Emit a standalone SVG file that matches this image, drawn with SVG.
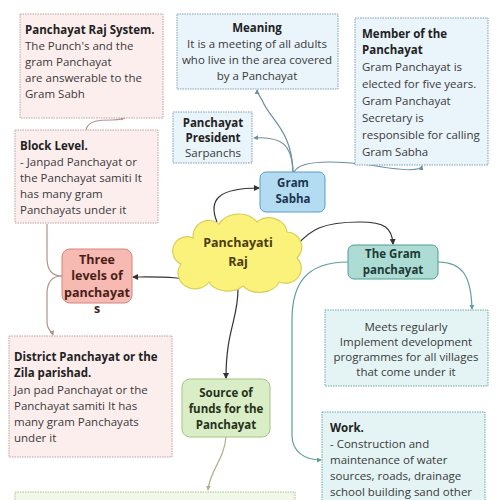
<svg xmlns="http://www.w3.org/2000/svg" width="500" height="500" viewBox="0 0 500 500">
<defs>
<style>
text{font-family:"Open Sans","Noto Sans","Liberation Sans",sans-serif;font-size:11.5px;fill:#3a3a3a}
.b{font-weight:bold;fill:#222}
.c{text-anchor:middle}
.pink{fill:#fdeeee;stroke:#c0a0a0;stroke-width:1;stroke-dasharray:1.5 1}
.blue{fill:#eaf4fb;stroke:#7f9fb5;stroke-width:1;stroke-dasharray:1.5 1}
.teal{fill:#e4f4f4;stroke:#6aa6a6;stroke-width:1;stroke-dasharray:1.5 1}
.green{fill:#f1f8e9;stroke:#a6c28a;stroke-width:1;stroke-dasharray:1.5 1}
.con{fill:none;stroke-width:1.2}
.k{stroke:#333}
.br{stroke:#b0948a}
.bl{stroke:#6d8ea3}
.tl{stroke:#5f9e9c}
.gn{stroke:#b5ae8a}
</style>
<marker id="ak" viewBox="0 0 6 6" refX="5" refY="3" markerWidth="6" markerHeight="6" orient="auto" markerUnits="userSpaceOnUse"><path d="M0,0 L6,3 L0,6 Z" fill="#333"/></marker>
<marker id="abr" viewBox="0 0 6 6" refX="5" refY="3" markerWidth="5" markerHeight="5" orient="auto" markerUnits="userSpaceOnUse"><path d="M0,0 L6,3 L0,6 Z" fill="#b0948a"/></marker>
<marker id="abl" viewBox="0 0 6 6" refX="5" refY="3" markerWidth="5" markerHeight="5" orient="auto" markerUnits="userSpaceOnUse"><path d="M0,0 L6,3 L0,6 Z" fill="#6d8ea3"/></marker>
<marker id="atl" viewBox="0 0 6 6" refX="5" refY="3" markerWidth="5" markerHeight="5" orient="auto" markerUnits="userSpaceOnUse"><path d="M0,0 L6,3 L0,6 Z" fill="#5f9e9c"/></marker>
<marker id="agn" viewBox="0 0 6 6" refX="5" refY="3" markerWidth="5" markerHeight="5" orient="auto" markerUnits="userSpaceOnUse"><path d="M0,0 L6,3 L0,6 Z" fill="#b5ae8a"/></marker>
</defs>
<rect width="500" height="500" fill="#ffffff"/>

<g id="connectors">
<path class="con k" d="M200 284 C185 276 160 277 133 277" marker-end="url(#ak)"/>
<path class="con k" d="M217 222 C208 200 218 188 259 188" marker-end="url(#ak)"/>
<path class="con k" d="M296 246 C310 230 322 222 360 222 C385 222 392 228 393 244" marker-end="url(#ak)"/>
<path class="con k" d="M238 289 C238 320 226 330 226 378" marker-end="url(#ak)"/>
<path class="con br" d="M62 276 C52 276 47 270 47 258 L47 224"/>
<path class="con br" d="M62 276 C52 276 47 282 47 294 L47 322 C47 330 52 332 53 335" marker-end="url(#abr)"/>
<path class="con br" d="M86 130 C88 120 100 120 112 120 C120 120 124 118 125 118" marker-end="url(#abr)"/>
<path class="con bl" d="M293 172 C292 145 282 136 254 138" marker-end="url(#abl)"/>
<path class="con bl" d="M293 172 C292 130 270 120 262 100 C259 95 257 92 257 90" marker-end="url(#abl)"/>
<path class="con bl" d="M294 172 C300 160 330 160 370 165 C410 172 421 170 422 166" marker-end="url(#abl)"/>
<path class="con tl" d="M438 262 C462 262 471 275 472 309" marker-end="url(#atl)"/>
<path class="con tl" d="M348 262 C305 262 292 285 292 320 L292 435 C292 452 305 460 321 460" marker-end="url(#atl)"/>
<path class="con gn" d="M226 437 C224 460 210 470 208 490" marker-end="url(#agn)"/>
</g>

<g id="panchayat-raj-system">
<rect class="pink" x="20" y="14" width="143" height="104"/>
<text x="25" y="34" class="b">Panchayat Raj System.</text>
<text x="25" y="50">The Punch's and the</text>
<text x="25" y="66">gram Panchayat</text>
<text x="25" y="82">are answerable to the</text>
<text x="25" y="98">Gram Sabh</text>
</g>

<g id="meaning">
<rect class="blue" x="177" y="14" width="161" height="75"/>
<text x="257" y="32" class="b c">Meaning</text>
<text x="257" y="48" class="c">It is a meeting of all adults</text>
<text x="257" y="64" class="c">who live in the area covered</text>
<text x="257" y="80" class="c">by a Panchayat</text>
</g>

<g id="member">
<rect class="blue" x="355" y="18" width="133" height="147"/>
<text x="362" y="38" class="b">Member of the</text>
<text x="362" y="54" class="b">Panchayat</text>
<text x="362" y="71">Gram Panchayat is</text>
<text x="362" y="88">elected for five years.</text>
<text x="362" y="105">Gram Panchayat</text>
<text x="362" y="122">Secretary is</text>
<text x="362" y="139">responsible for calling</text>
<text x="362" y="156">Gram Sabha</text>
</g>

<g id="block-level">
<rect class="pink" x="15" y="130" width="143" height="93"/>
<text x="20" y="150" class="b">Block Level.</text>
<text x="20" y="166">- Janpad Panchayat or</text>
<text x="20" y="182">the Panchayat samiti It</text>
<text x="20" y="198">has many gram</text>
<text x="20" y="214">Panchayats under it</text>
</g>

<g id="panchayat-president">
<rect class="blue" x="173" y="112" width="79" height="51"/>
<text x="213" y="127" class="b c">Panchayat</text>
<text x="213" y="142" class="b c">President</text>
<text x="213" y="157" class="c">Sarpanchs</text>
</g>

<g id="gram-sabha">
<rect x="260" y="172" width="65" height="40" rx="6" fill="#b3dcf2" stroke="#5d9cc2" stroke-width="1"/>
<text x="293" y="187" class="b c" style="fill:#1d3550">Gram</text>
<text x="293" y="203" class="b c" style="fill:#1d3550">Sabha</text>
</g>

<g id="panchayati-raj">
<path d="M193 238 a16 16 0 0 1 26 -14 a22 18 0 0 1 38 -2 a18 16 0 0 1 30 10 a15 15 0 0 1 10 26 a16 15 0 0 1 -18 24 a20 14 0 0 1 -36 4 a20 14 0 0 1 -34 -4 a15 14 0 0 1 -28 -18 a14 14 0 0 1 12 -26 Z" fill="#fbf27c" stroke="#d9cf58" stroke-width="1.2"/>
<text x="238" y="247" class="b c" style="fill:#4a3d10;font-size:12.5px">Panchayati</text>
<text x="238" y="266" class="b c" style="fill:#4a3d10;font-size:12.5px">Raj</text>
</g>

<g id="three-levels">
<rect x="62" y="249" width="70" height="54" rx="8" fill="#f6bab2" stroke="#d6847a" stroke-width="1"/>
<text x="97" y="264" class="b c" style="fill:#4a1e18;font-size:12.5px">Three</text>
<text x="97" y="280" class="b c" style="fill:#4a1e18;font-size:12.5px">levels of</text>
<text x="97" y="297" class="b c" style="fill:#4a1e18;font-size:12.5px">panchayat</text>
<text x="97" y="313" class="b c" style="fill:#4a1e18;font-size:12.5px">s</text>
</g>

<g id="gram-panchayat">
<rect x="348" y="245" width="90" height="34" rx="6" fill="#acdcd4" stroke="#4f9c92" stroke-width="1"/>
<text x="393" y="258" class="b c" style="fill:#1e3a36">The Gram</text>
<text x="393" y="274" class="b c" style="fill:#1e3a36">panchayat</text>
</g>

<g id="meets">
<rect class="teal" x="325" y="310" width="163" height="76"/>
<text x="406" y="331" class="c">Meets regularly</text>
<text x="406" y="346" class="c">Implement development</text>
<text x="406" y="361" class="c">programmes for all villages</text>
<text x="406" y="376" class="c">that come under it</text>
</g>

<g id="district">
<rect class="pink" x="9" y="336" width="163" height="121"/>
<text x="14" y="361" class="b">District Panchayat or the</text>
<text x="14" y="377" class="b">Zila parishad.</text>
<text x="14" y="394">Jan pad Panchayat or the</text>
<text x="14" y="410">Panchayat samiti It has</text>
<text x="14" y="426">many gram Panchayats</text>
<text x="14" y="442">under it</text>
</g>

<g id="source-of-funds">
<rect x="182" y="379" width="88" height="58" rx="8" fill="#d9edc6" stroke="#a3c486" stroke-width="1"/>
<text x="226" y="397" class="b c" style="fill:#26311a">Source of</text>
<text x="226" y="413" class="b c" style="fill:#26311a">funds for the</text>
<text x="226" y="429" class="b c" style="fill:#26311a">Panchayat</text>
</g>

<g id="work">
<rect class="teal" x="322" y="412" width="163" height="100"/>
<text x="330" y="432" class="b">Work.</text>
<text x="330" y="448">- Construction and</text>
<text x="330" y="464">maintenance of water</text>
<text x="330" y="480">sources, roads, drainage</text>
<text x="330" y="496">school building sand other</text>
</g>

<g id="bottom-box">
<rect class="green" x="15" y="492" width="280" height="20"/>
</g>
</svg>
